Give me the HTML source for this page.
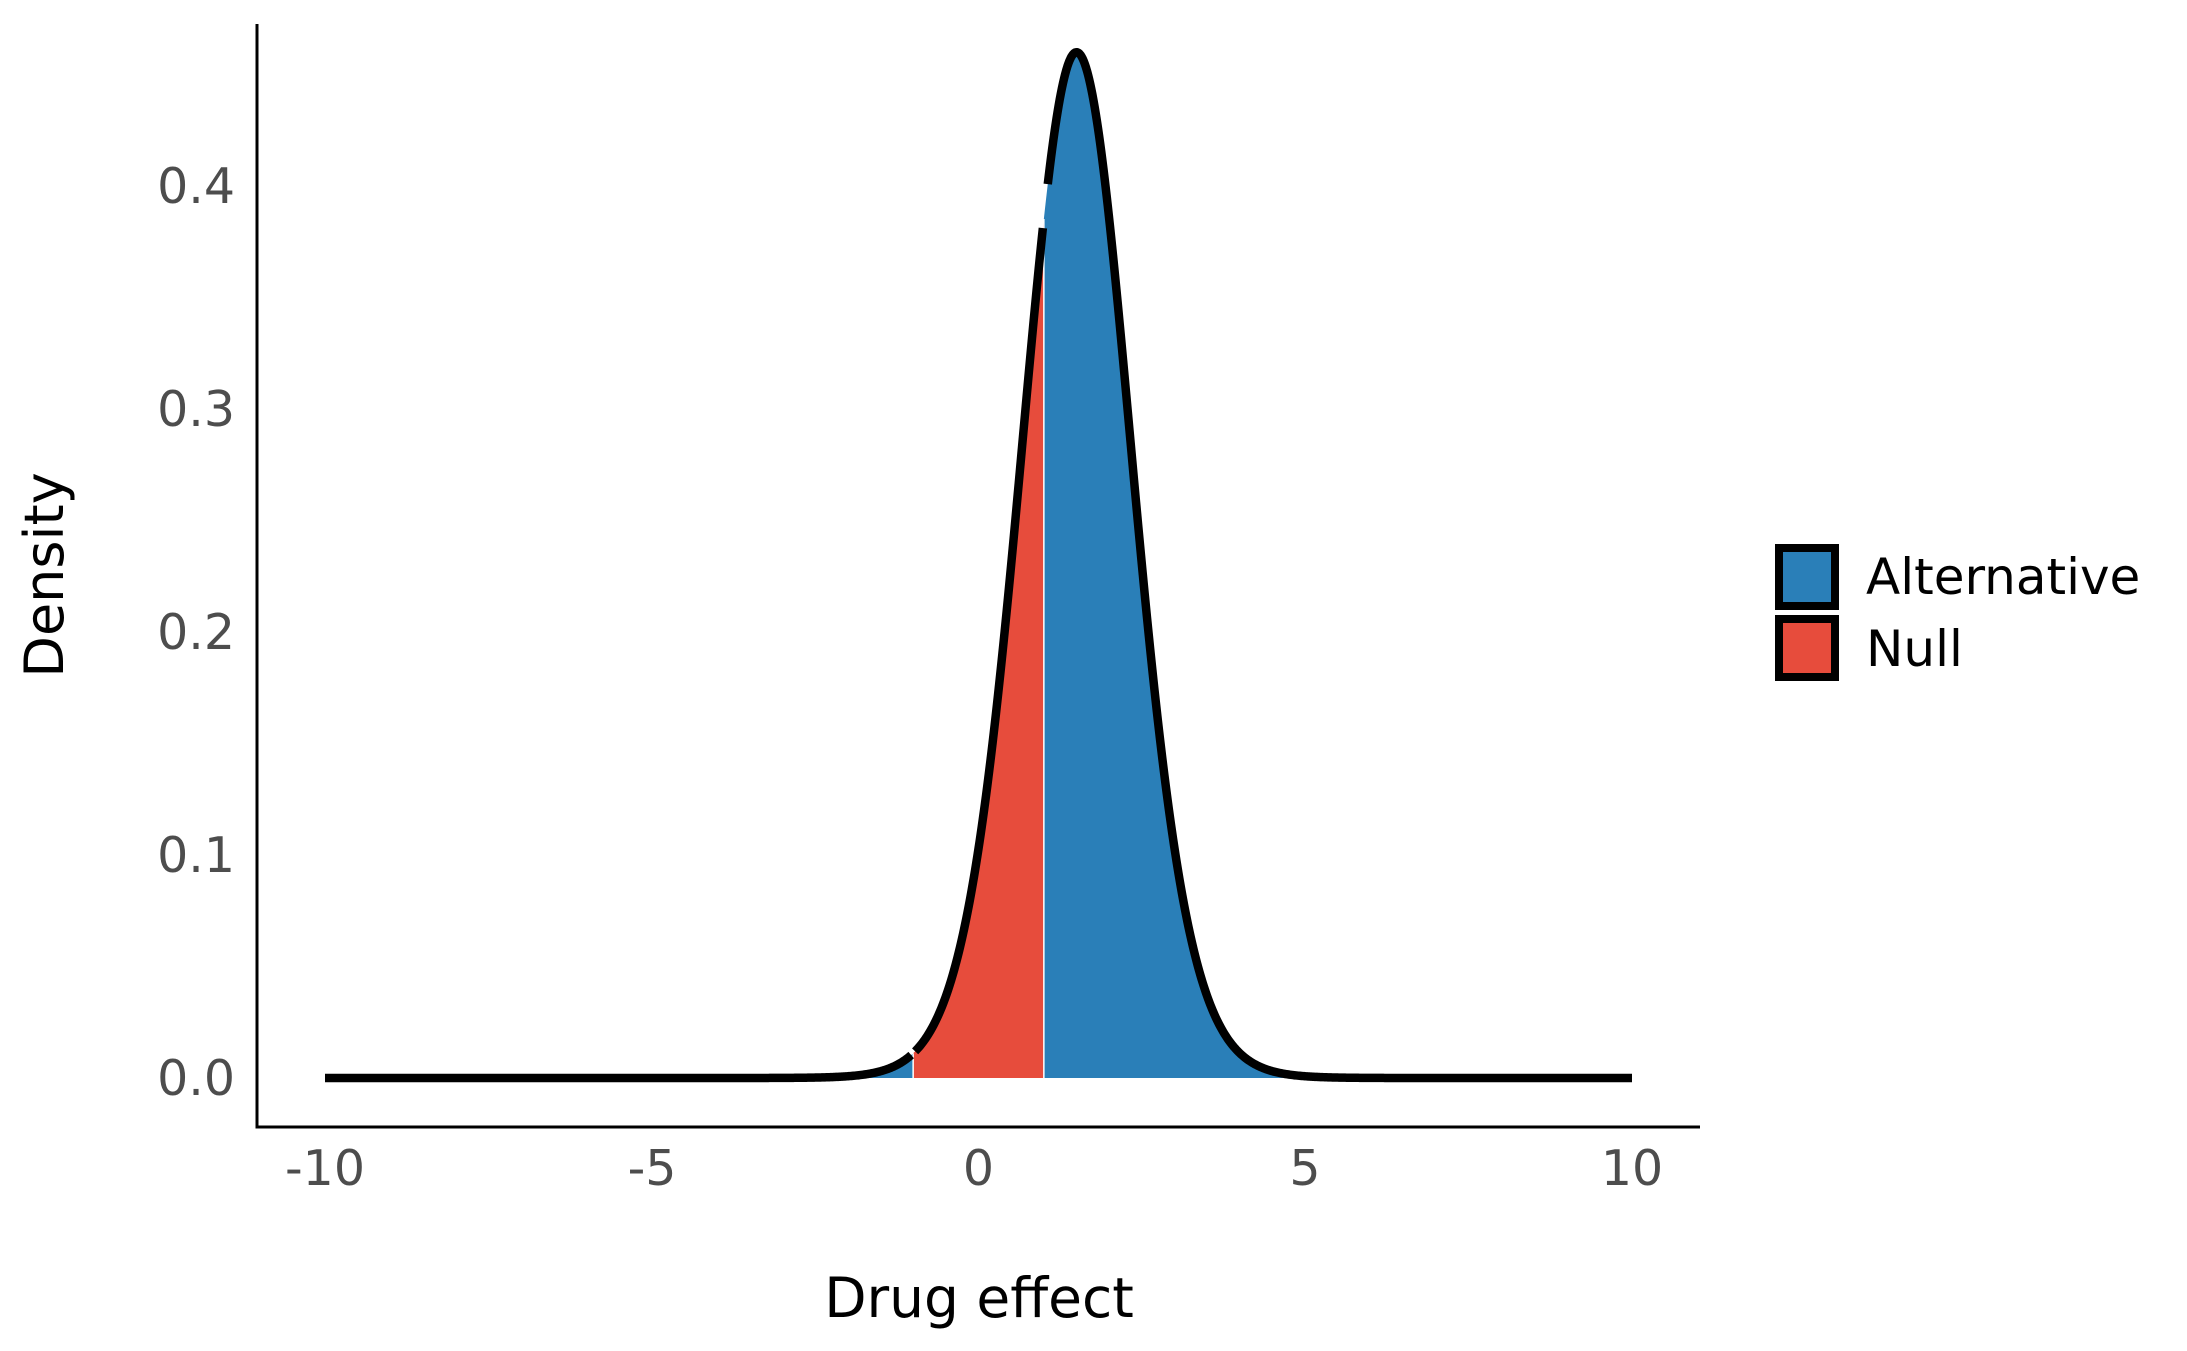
<!DOCTYPE html>
<html><head><meta charset="utf-8"><style>
html,body{margin:0;padding:0;background:#fff;}
svg{display:block;font-family:"DejaVu Sans","Liberation Sans",sans-serif;}
</style></head><body>
<svg id="s" width="2187" height="1351" viewBox="0 0 2187 1351" xmlns="http://www.w3.org/2000/svg">
<rect width="2187" height="1351" fill="#fff"/>
<g id="fills"></g>
<g id="lines" fill="none" stroke="#000" stroke-width="8.5" stroke-linejoin="round"></g>
<line x1="257" y1="24" x2="257" y2="1128" stroke="#000" stroke-width="3"/>
<line x1="255.5" y1="1127" x2="1700" y2="1127" stroke="#000" stroke-width="3"/>
<g fill="#4d4d4d" font-size="49" text-anchor="end">
<text x="235" y="1095">0.0</text>
<text x="235" y="872">0.1</text>
<text x="235" y="649">0.2</text>
<text x="235" y="426">0.3</text>
<text x="235" y="203">0.4</text>
</g>
<g fill="#4d4d4d" font-size="49" text-anchor="middle">
<text x="325" y="1185">-10</text>
<text x="652" y="1185">-5</text>
<text x="978.5" y="1185">0</text>
<text x="1305" y="1185">5</text>
<text x="1632" y="1185">10</text>
</g>
<text x="979" y="1317" font-size="55" text-anchor="middle" fill="#000">Drug effect</text>
<text transform="translate(63,575) rotate(-90)" font-size="54" text-anchor="middle" fill="#000">Density</text>
<rect x="1779" y="548" width="56" height="58" fill="#2a7fb8" stroke="#000" stroke-width="8"/>
<rect x="1779" y="619" width="56" height="58" fill="#e74c3c" stroke="#000" stroke-width="8"/>
<text x="1866" y="594" font-size="50" fill="#000">Alternative</text>
<text x="1866" y="666" font-size="50" fill="#000">Null</text>
</svg>
<script>
(function(){
var X0=978.5,UX=65.35,Y0=1078,UY=2230;
var nu=20,mu=1.5;
function lg(z){var g=[676.5203681218851,-1259.1392167224028,771.32342877765313,-176.61502916214059,12.507343278686905,-0.13857109526572012,9.9843695780195716e-6,1.5056327351493116e-7];if(z<0.5)return Math.log(Math.PI/Math.sin(Math.PI*z))-lg(1-z);z-=1;var x=0.99999999999980993;for(var i=0;i<8;i++)x+=g[i]/(z+i+1);var t=z+7.5;return 0.5*Math.log(2*Math.PI)+(z+0.5)*Math.log(t)-t+Math.log(x);}
var c=Math.exp(lg((nu+1)/2)-lg(nu/2))/Math.sqrt(nu*Math.PI);
var s=c/0.46;
function f(x){var t=(x-mu)/s;return c/s*Math.pow(1+t*t/nu,-(nu+1)/2);}
function px(x){return X0+x*UX;} function py(y){return Y0-y*UY;}
function pts(a,b){var r=[];var n=Math.max(2,Math.round((b-a)*60));for(var i=0;i<=n;i++){var x=a+(b-a)*i/n;r.push(px(x).toFixed(2)+","+py(f(x)).toFixed(2));}return r;}
function area(a,b,col){var p=pts(a,b);return '<path d="M'+px(a).toFixed(2)+','+Y0+' L'+p.join(' L')+' L'+px(b).toFixed(2)+','+Y0+' Z" fill="'+col+'"/>';}
var F=document.getElementById('fills');
F.innerHTML=area(-10,-1,'#2a7fb8')+area(-1,1,'#e74c3c')+area(1,10,'#2a7fb8')+
'<line x1="'+px(-1)+'" y1="'+Y0+'" x2="'+px(-1)+'" y2="'+py(f(-1))+'" stroke="#fff" stroke-width="1.5"/>'+
'<line x1="'+px(1)+'" y1="'+Y0+'" x2="'+px(1)+'" y2="'+py(f(1))+'" stroke="#fff" stroke-width="1.5"/>';
var L=document.getElementById('lines');
L.innerHTML='<path d="M'+pts(-10,-1.03).join(' L')+'"/>'+
'<path d="M'+pts(-0.97,0.985).join(' L')+'"/>'+
'<path d="M'+pts(1.06,10).join(' L')+'"/>';
})();
</script>
</body></html>
